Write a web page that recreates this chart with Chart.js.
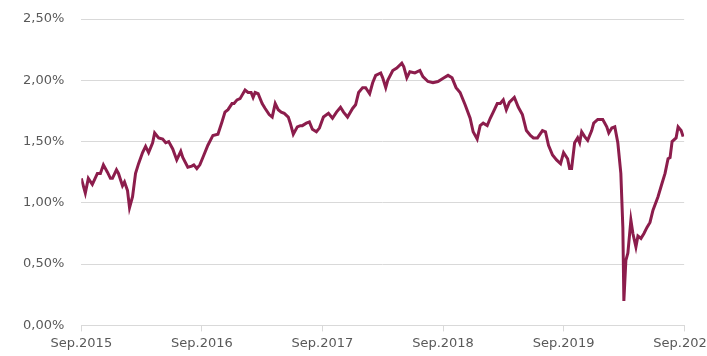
<!DOCTYPE html>
<html>
<head>
<meta charset="utf-8">
<script src="https://cdn.jsdelivr.net/npm/chart.js@4"></script>
<style>
  html, body { margin: 0; padding: 0; background: #fff; overflow: hidden; }
  #wrap { width: 719px; height: 356px; }
</style>
</head>
<body>
<div id="wrap"><canvas id="myChart"></canvas></div>
<script>
// months since Sep.2015
var months = [0.0,0.4,0.7,1.1,1.6,1.9,2.2,2.6,2.9,3.1,3.5,3.7,4.1,4.3,4.6,4.8,5.1,5.4,5.7,6.1,
  6.4,6.7,7.1,7.3,7.7,8.1,8.4,8.7,9.1,9.5,9.9,10.1,10.6,11.0,11.2,11.5,11.8,12.1,12.6,13.1,
  13.6,14.0,14.3,14.6,15.0,15.2,15.5,15.8,16.3,16.6,16.9,17.1,17.3,17.6,18.0,18.3,18.7,19.0,19.3,19.6,
  19.9,20.2,20.6,20.8,21.1,21.5,21.8,22.0,22.4,22.7,23.0,23.4,23.7,24.1,24.6,25.0,25.4,25.8,26.1,26.5,
  27.0,27.3,27.6,28.0,28.3,28.7,29.0,29.3,29.8,30.0,30.3,30.5,31.0,31.4,31.9,32.1,32.4,32.7,33.2,33.7,
  34.0,34.5,35.0,35.5,36.1,36.5,36.9,37.3,37.7,38.2,38.7,39.0,39.4,39.7,40.0,40.4,40.7,41.0,41.4,41.7,
  42.0,42.3,42.6,43.1,43.5,43.9,44.3,44.7,45.0,45.4,45.9,46.2,46.5,46.9,47.3,47.7,48.0,48.4,48.6,48.8,
  49.1,49.4,49.6,49.8,50.1,50.4,50.8,51.0,51.4,51.9,52.3,52.5,52.8,53.1,53.4,53.7,53.9,54.0,54.2,54.4,
  54.7,54.9,55.2,55.4,55.7,56.0,56.3,56.6,56.9,57.4,57.8,58.1,58.4,58.6,58.8,59.2,59.4,59.7,59.9];
// rate in %
var rates = [1.20,1.08,1.20,1.15,1.24,1.24,1.31,1.25,1.20,1.20,1.27,1.24,1.14,1.17,1.10,0.96,1.05,1.24,1.32,1.41,
  1.46,1.41,1.49,1.57,1.53,1.52,1.49,1.50,1.44,1.35,1.42,1.37,1.29,1.30,1.31,1.28,1.31,1.37,1.47,1.55,
  1.56,1.66,1.74,1.76,1.81,1.81,1.84,1.85,1.92,1.90,1.90,1.86,1.90,1.89,1.81,1.77,1.72,1.70,1.81,1.76,
  1.74,1.73,1.70,1.65,1.56,1.62,1.63,1.63,1.65,1.66,1.60,1.58,1.61,1.70,1.73,1.69,1.74,1.78,1.74,1.70,
  1.77,1.80,1.90,1.94,1.94,1.89,1.98,2.04,2.06,2.02,1.94,2.00,2.08,2.10,2.14,2.11,2.02,2.07,2.06,2.08,
  2.03,1.99,1.98,1.99,2.02,2.04,2.02,1.94,1.90,1.80,1.69,1.58,1.52,1.63,1.65,1.63,1.69,1.74,1.81,1.81,
  1.84,1.76,1.82,1.86,1.78,1.72,1.59,1.55,1.53,1.53,1.59,1.58,1.47,1.39,1.35,1.32,1.41,1.36,1.28,1.28,
  1.49,1.53,1.49,1.58,1.54,1.51,1.59,1.65,1.68,1.68,1.62,1.57,1.61,1.62,1.49,1.24,0.80,0.20,0.53,0.59,
  0.86,0.75,0.64,0.73,0.71,0.75,0.80,0.84,0.94,1.05,1.16,1.24,1.36,1.37,1.50,1.53,1.62,1.59,1.54];
var yTicks = [0, 0.5, 1.0, 1.5, 2.0, 2.5];
var startYear = 2015;

var points = months.map(function(m, i) { return { x: m, y: rates[i] }; });

Chart.defaults.font.family = "'DejaVu Sans', Verdana, sans-serif";
Chart.defaults.font.size = 13;
Chart.defaults.color = '#595959';

var ctx = document.getElementById('myChart');
new Chart(ctx, {
  type: 'line',
  data: {
    datasets: [{
      data: points,
      borderColor: '#8c1d4c',
      borderWidth: 3,
      pointRadius: 0,
      tension: 0,
      fill: false
    }]
  },
  options: {
    responsive: true,
    maintainAspectRatio: false,
    animation: false,
    layout: { padding: { top: 19, left: 6, bottom: 1, right: 0 } },
    plugins: { legend: { display: false }, tooltip: { enabled: false } },
    scales: {
      x: {
        type: 'linear',
        min: 0,
        max: 60,
        ticks: {
          stepSize: 12,
          padding: 4,
          maxRotation: 0,
          callback: function(v) { return 'Sep.' + (startYear + v / 12); }
        },
        grid: { drawOnChartArea: false, drawTicks: true, tickLength: 6, color: '#d9d9d9' },
        border: { display: true, color: '#d9d9d9' }
      },
      y: {
        min: 0,
        max: 2.5,
        afterBuildTicks: function(axis) { axis.ticks = yTicks.map(function(v) { return { value: v }; }); },
        afterFit: function(axis) { axis.paddingTop = 0; },
        ticks: {
          padding: 17,
          callback: function(v) { return v.toFixed(2).replace('.', ',') + '%'; }
        },
        grid: { drawTicks: false, color: '#d9d9d9' },
        border: { display: false }
      }
    }
  }
});
</script>
</body>
</html>
